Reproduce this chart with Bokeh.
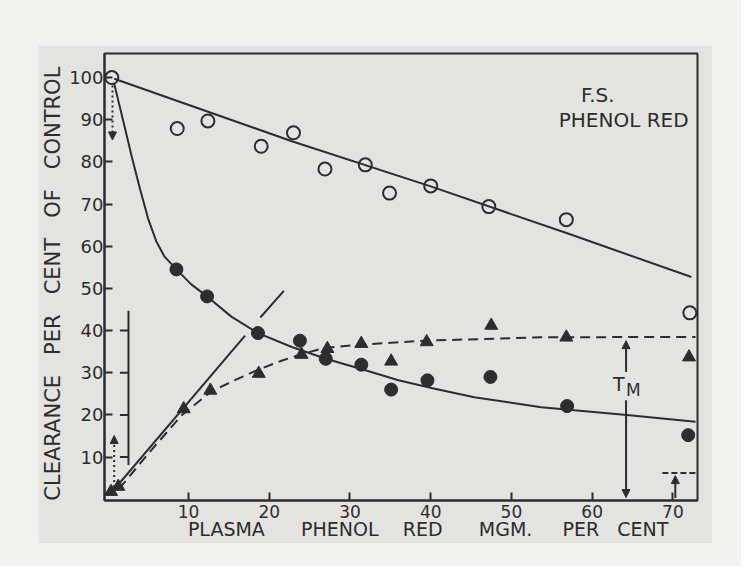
from bokeh.plotting import figure
from bokeh.models import Range1d, Arrow, NormalHead, Spacer, FixedTicker
from bokeh.layouts import column, row
from bokeh.core.properties import value
from bokeh.embed import file_html
from bokeh.resources import INLINE

# ---- data ----
x_ticks = [10, 20, 30, 40, 50, 60, 70]
y_ticks = [10, 20, 30, 40, 50, 60, 70, 80, 90, 100]

open_x = [0.5, 8.6, 12.4, 19.0, 23.0, 26.9, 31.9, 34.9, 40.0, 47.2, 56.8, 72.1]
open_y = [100.0, 87.9, 89.7, 83.7, 86.9, 78.3, 79.3, 72.6, 74.3, 69.4, 66.3, 44.2]

filled_x = [8.5, 12.3, 18.6, 23.8, 27.0, 31.4, 35.1, 39.6, 47.4, 56.9, 71.9]
filled_y = [54.5, 48.1, 39.4, 37.6, 33.3, 31.9, 26.0, 28.2, 29.0, 22.1, 15.2]

tri_x = [0.4, 1.3, 9.4, 12.7, 18.7, 24.0, 27.2, 31.4, 35.1, 39.5, 47.5, 56.8, 72.0]
tri_y = [1.8, 3.0, 21.4, 25.8, 29.8, 34.3, 35.7, 36.9, 32.7, 37.3, 41.2, 38.4, 33.7]

upper_curve_x = [0.8, 22.8, 40.0, 57.0, 72.3]
upper_curve_y = [99.7, 84.9, 74.2, 63.0, 52.7]

lower_curve_x = [0.8, 2.0, 3.0, 4.0, 5.0, 6.0, 7.0, 8.5, 10.3, 12.3, 15.3, 18.6, 22.8, 27.0,
                 31.4, 36.0, 40.5, 45.4, 53.7, 64.3, 72.8]
lower_curve_y = [98.5, 89.0, 81.0, 73.5, 66.5, 61.2, 57.6, 54.5, 51.0, 48.1, 43.3, 39.4, 36.1,
                 33.3, 30.9, 28.2, 26.2, 24.2, 21.8, 20.0, 18.4]

tm_curve_x = [1.4, 5.5, 9.2, 12.8, 15.8, 18.5, 21.6, 24.0, 26.9, 31.0, 39.3, 53.7, 72.8]
tm_curve_y = [2.5, 11.9, 20.0, 25.5, 28.3, 30.6, 32.9, 34.4, 35.9, 36.6, 37.6, 38.4, 38.5]

tangent_xs = [[0.2, 17.0], [18.9, 21.8]]
tangent_ys = [[1.0, 38.8], [43.1, 49.4]]

bracket_x = [2.56, 2.56]
bracket_y = [8.1, 44.7]
bracket_ticks = [10, 20, 30, 40]

tm_x = 64.2
small_level = 6.2
small_x = 70.3

INK = "#2d2d2d"
CARD = "#e3e3e1"
OUTER = "#f1f1f0"
FONT = "DejaVu Sans"
NB = "\u00a0"

p = figure(width=674, height=498, output_backend="svg", toolbar_location=None,
           x_range=Range1d(-0.41, 73.05), y_range=Range1d(-0.3, 105.7),
           min_border_left=64, min_border_right=15, min_border_top=8, min_border_bottom=43)
p.background_fill_color = CARD
p.border_fill_color = CARD
p.outline_line_color = INK
p.outline_line_width = 2
p.xgrid.visible = False
p.ygrid.visible = False

for ax in (p.xaxis[0], p.yaxis[0]):
    ax.axis_line_color = INK
    ax.axis_line_width = 2
    ax.major_tick_line_color = INK
    ax.major_tick_line_width = 2
    ax.major_tick_in = 8
    ax.major_tick_out = 0
    ax.minor_tick_line_color = None
    ax.major_label_text_color = INK
    ax.major_label_text_font = FONT
    ax.axis_label_text_font = FONT
    ax.axis_label_text_font_style = "normal"
    ax.axis_label_text_color = INK

p.xaxis.ticker = FixedTicker(ticks=x_ticks)
p.yaxis.ticker = FixedTicker(ticks=y_ticks)
p.xaxis.major_label_text_font_size = "17px"
p.yaxis.major_label_text_font_size = "18px"
p.xaxis.major_label_standoff = 4
p.yaxis.major_label_standoff = 1

p.yaxis.axis_label = ("CLEARANCE" + NB * 3 + "PER" + NB * 3 + "CENT" + NB * 3 + "OF"
                      + NB * 3 + "CONTROL" + NB * 2)
p.yaxis.axis_label_text_font_size = "21px"
p.yaxis.axis_label_standoff = 1

p.xaxis.axis_label = (NB * 9 + "PLASMA" + NB * 6 + "PHENOL" + NB * 4 + "RED" + NB * 6 + "MGM."
                      + NB * 5 + "PER" + NB * 3 + "CENT")
p.xaxis.axis_label_text_font_size = "19px"
p.xaxis.axis_label_standoff = -3

# curves
p.line(upper_curve_x, upper_curve_y, line_color=INK, line_width=2)
p.line(lower_curve_x, lower_curve_y, line_color=INK, line_width=2)
p.line(tm_curve_x, tm_curve_y, line_color=INK, line_width=2, line_dash="10 6")
p.multi_line(tangent_xs, tangent_ys, line_color=INK, line_width=2)

# bracket at left
p.line(bracket_x, bracket_y, line_color=INK, line_width=2)
p.segment(x0=[1.5] * len(bracket_ticks), y0=bracket_ticks, x1=[bracket_x[0]] * len(bracket_ticks),
          y1=bracket_ticks, line_color=INK, line_width=2)

# small level at bottom right
p.segment(x0=[68.7], y0=[small_level], x1=[73.05], y1=[small_level], line_color=INK,
          line_width=2, line_dash="6 3")

# markers
p.scatter(open_x, open_y, marker="circle", size=13, fill_color=None, line_color=INK, line_width=2)
p.scatter(filled_x, filled_y, marker="circle", size=13, fill_color=INK, line_color=INK)
p.scatter(tri_x, tri_y, marker="triangle", size=13, fill_color=INK, line_color=INK)

# arrows
def arrow(x0, y0, x1, y1, dash="solid"):
    p.add_layout(Arrow(end=NormalHead(size=8, fill_color=INK, line_color=INK, line_width=1),
                       x_start=x0, y_start=y0, x_end=x1, y_end=y1,
                       line_color=INK, line_width=2, line_dash=dash))

arrow(0.58, 98.1, 0.58, 85.2, "2 3")
arrow(0.79, 2.9, 0.79, 15.1, "2 3")
arrow(tm_x, 30.2, tm_x, 37.6)
arrow(tm_x, 23.5, tm_x, 0.4)
arrow(small_x, 0.3, small_x, 5.6)

# texts
p.text(x=[60.7, 63.9], y=[95.8, 90.0], text=["F.S.", "PHENOL RED"], text_font=value(FONT),
       text_font_size="20px", text_align="center", text_baseline="middle", text_color=INK)
p.text(x=[63.3], y=[27.4], text=["T"], text_font=value(FONT), text_font_size="19px",
       text_align="center", text_baseline="middle", text_color=INK)
p.text(x=[65.1], y=[26.0], text=["M"], text_font=value(FONT), text_font_size="17px",
       text_align="center", text_baseline="middle", text_color=INK)

layout = column(Spacer(width=741, height=45),
                row(Spacer(width=38, height=498), p),
                width=741, height=566, styles={"background-color": OUTER})

open("out.html", "w").write(file_html(layout, INLINE))
